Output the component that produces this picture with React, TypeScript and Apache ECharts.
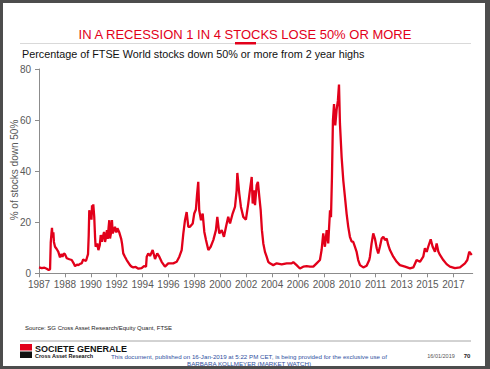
import React, { useEffect, useRef } from "react";
import * as echarts from "echarts";

const tickLabels = ["1987", "1988", "1990", "1992", "1994", "1996", "1998", "2000", "2002", "2004", "2006", "2008", "2010", "2011", "2013", "2015", "2017"];
const yTicks = [0, 20, 40, 60, 80];

const years = [
  1987.00, 1987.20, 1987.40, 1987.56, 1987.70, 1987.80, 1987.85, 1987.90, 1987.94, 1987.98,
  1988.04, 1988.08, 1988.16, 1988.28, 1988.40, 1988.52, 1988.60, 1988.70, 1988.80, 1988.88,
  1989.01, 1989.20, 1989.37, 1989.50, 1989.61, 1989.75, 1989.85, 1990.00, 1990.09, 1990.20,
  1990.26, 1990.40, 1990.55, 1990.60, 1990.64, 1990.70, 1990.74, 1990.80, 1990.84, 1990.90,
  1990.93, 1991.00, 1991.06, 1991.10, 1991.22, 1991.30, 1991.40, 1991.47, 1991.55, 1991.61,
  1991.71, 1991.78, 1991.85, 1991.92, 1991.97, 1992.04, 1992.09, 1992.14, 1992.22, 1992.28,
  1992.34, 1992.43, 1992.50, 1992.60, 1992.68, 1992.80, 1992.95, 1993.01, 1993.10, 1993.22,
  1993.35, 1993.47, 1993.59, 1993.70, 1993.83, 1994.00, 1994.20, 1994.43, 1994.60, 1994.75,
  1994.80, 1994.91, 1995.04, 1995.23, 1995.40, 1995.56, 1995.71, 1995.88, 1996.12, 1996.36,
  1996.72, 1996.97, 1997.16, 1997.33, 1997.45, 1997.57, 1997.69, 1997.81, 1997.93, 1998.13,
  1998.24, 1998.36, 1998.44, 1998.53, 1998.60, 1998.73, 1998.85, 1998.97, 1999.09, 1999.26,
  1999.43, 1999.62, 1999.81, 1999.91, 2000.05, 2000.23, 2000.39, 2000.54, 2000.70, 2000.83,
  2001.02, 2001.19, 2001.31, 2001.36, 2001.50, 2001.62, 2001.79, 2001.98, 2002.15, 2002.27,
  2002.40, 2002.47, 2002.56, 2002.64, 2002.76, 2002.85, 2002.95, 2003.05, 2003.14, 2003.24,
  2003.36, 2003.48, 2003.60, 2003.72, 2003.96, 2004.21, 2004.57, 2004.93, 2005.29, 2005.41,
  2005.65, 2005.89, 2006.13, 2006.38, 2006.62, 2006.86, 2007.10, 2007.34, 2007.46, 2007.58,
  2007.70, 2007.83, 2007.94, 2008.07, 2008.14, 2008.21, 2008.28, 2008.36, 2008.45, 2008.55,
  2008.64, 2008.72, 2008.79, 2008.91, 2009.03, 2009.15, 2009.27, 2009.39, 2009.51, 2009.63,
  2009.75, 2009.87, 2009.99, 2010.11, 2010.24, 2010.48, 2010.72, 2010.91, 2010.96, 2011.08,
  2011.20, 2011.32, 2011.45, 2011.56, 2011.68, 2011.81, 2011.93, 2012.05, 2012.17, 2012.29,
  2012.41, 2012.65, 2012.90, 2013.13, 2013.50, 2013.86, 2014.10, 2014.34, 2014.58, 2014.82,
  2014.94, 2015.07, 2015.18, 2015.36, 2015.50, 2015.67, 2015.79, 2015.91, 2016.03, 2016.27,
  2016.51, 2016.75, 2017.11, 2017.48, 2017.84, 2018.01, 2018.15, 2018.33
];

const pctDown = [
  2.3, 2.0, 2.2, 1.8, 1.3, 1.6, 12.0, 15.5, 17.8, 14.0,
  16.0, 12.3, 10.4, 9.5, 8.4, 6.2, 7.5, 6.5, 7.8, 7.5,
  5.9, 5.5, 5.2, 4.0, 2.8, 3.4, 3.2, 3.8, 3.9, 5.4,
  5.2, 4.8, 7.5, 15.0, 24.7, 22.0, 23.5, 21.0, 26.6, 24.0,
  27.0, 22.0, 14.0, 10.4, 11.7, 9.1, 11.0, 15.0, 12.3, 14.0,
  16.2, 12.3, 14.0, 16.9, 13.5, 18.0, 20.8, 13.6, 16.0, 20.8,
  15.6, 17.0, 18.2, 16.0, 17.6, 16.2, 13.5, 11.7, 7.8, 6.5,
  5.2, 4.2, 3.2, 2.6, 2.3, 2.5, 1.8, 2.0, 2.8, 2.6,
  6.5, 7.8, 6.8, 9.1, 5.6, 7.8, 6.5, 4.5, 2.6, 3.9,
  3.9, 4.5, 6.5, 9.1, 15.6, 20.8, 24.0, 18.2, 18.2, 19.5,
  23.4, 25.0, 30.6, 35.8, 24.7, 20.8, 23.4, 16.2, 13.0, 9.1,
  10.4, 13.0, 16.9, 22.1, 15.6, 16.9, 14.3, 18.2, 22.1, 19.5,
  23.4, 26.0, 32.5, 39.3, 31.2, 26.0, 22.1, 21.0, 27.3, 32.5,
  37.7, 27.3, 32.5, 26.7, 34.5, 35.8, 30.0, 24.7, 16.9, 11.7,
  8.4, 6.5, 4.5, 3.9, 3.2, 3.9, 3.5, 3.9, 3.9, 4.4,
  3.2, 1.9, 2.6, 2.8, 2.6, 2.6, 3.9, 5.2, 9.1, 15.6,
  10.4, 16.9, 11.7, 24.7, 22.0, 37.7, 59.8, 66.3, 57.9, 64.2,
  67.6, 73.9, 58.5, 45.5, 36.4, 29.9, 23.4, 18.2, 14.3, 12.5,
  12.3, 10.4, 8.5, 5.2, 3.2, 2.3, 3.0, 5.2, 6.5, 11.7,
  15.6, 13.6, 9.8, 7.8, 10.4, 13.6, 14.3, 13.0, 13.6, 11.0,
  9.1, 6.5, 4.5, 3.2, 2.6, 1.9, 2.3, 5.2, 4.5, 6.5,
  9.8, 8.4, 10.4, 13.3, 10.4, 8.4, 11.7, 8.5, 7.2, 5.2,
  3.6, 2.6, 2.0, 2.3, 3.9, 5.2, 8.4, 7.2
];

const RED = "#e2001a";
const FONT = "'Liberation Sans', Arial, sans-serif";
const START = 1987;
const STEP = 1.875;
const END = 2018.4;

export default function App() {
  const ref = useRef<HTMLDivElement>(null);
  useEffect(() => {
    if (!ref.current) return;
    const chart = echarts.init(ref.current, null, { renderer: "svg" });
    const tickVals = tickLabels.map((_, i) => START + i * STEP);
    const data = years.map((y, i) => [y, pctDown[i]]);
    chart.setOption({
      animation: false,
      grid: { left: 39, top: 69, width: 433.7, height: 204.3 },
      xAxis: {
        type: "value",
        min: START,
        max: END,
        axisLine: { show: true, lineStyle: { color: "#8c8c8c", width: 1 } },
        axisTick: { show: true, length: 4, customValues: tickVals, lineStyle: { color: "#8c8c8c" } },
        axisLabel: {
          customValues: tickVals,
          formatter: (v: number) => tickLabels[Math.round((v - START) / STEP)] ?? "",
          color: "#595959",
          fontSize: 10,
          fontFamily: FONT,
          margin: 6,
        },
        splitLine: { show: false },
      },
      yAxis: {
        type: "value",
        min: 0,
        max: 80,
        interval: 20,
        axisLine: { show: true, lineStyle: { color: "#8c8c8c", width: 1 } },
        axisTick: { show: true, length: 4, lineStyle: { color: "#8c8c8c" } },
        axisLabel: {
          formatter: (v: number) => (yTicks.includes(v) ? String(v) : ""),
          color: "#595959",
          fontSize: 10,
          fontFamily: FONT,
          margin: 8,
        },
        splitLine: { show: false },
      },
      series: [
        {
          type: "line",
          data,
          showSymbol: false,
          symbol: "none",
          lineStyle: { color: RED, width: 2.3 },
          z: 3,
        },
      ],
      graphic: [
        {
          type: "text", x: 245, y: 34,
          style: { text: "IN A RECESSION 1 IN 4 STOCKS LOSE 50% OR MORE", fill: RED, font: `13px ${FONT}`, textAlign: "center", textVerticalAlign: "middle" },
        },
        { type: "line", shape: { x1: 20, y1: 43.5, x2: 471, y2: 43.5 }, style: { stroke: "#d9d9d9", lineWidth: 1 } },
        { type: "rect", shape: { x: 235, y: 42, width: 21, height: 2.5 }, style: { fill: RED } },
        {
          type: "text", x: 22, y: 54,
          style: { text: "Percentage of FTSE World stocks down 50% or more from 2 year highs", fill: "#111", font: `10.8px ${FONT}`, textAlign: "left", textVerticalAlign: "middle" },
        },
        {
          type: "text", x: 14, y: 170, rotation: Math.PI / 2,
          style: { text: "% of stocks down 50%", fill: "#595959", font: `10px ${FONT}`, textAlign: "center", textVerticalAlign: "middle" },
        },
        {
          type: "text", x: 25, y: 327.5,
          style: { text: "Source: SG Cross Asset Research/Equity Quant, FTSE", fill: "#222", font: `6px ${FONT}`, textAlign: "left", textVerticalAlign: "middle" },
        },
        { type: "line", shape: { x1: 20, y1: 341, x2: 471, y2: 341 }, style: { stroke: "#a6a6a6", lineWidth: 1 } },
        { type: "rect", shape: { x: 20, y: 344, width: 12, height: 6.5 }, style: { fill: RED } },
        { type: "rect", shape: { x: 20, y: 351.5, width: 12, height: 6.5 }, style: { fill: "#111" } },
        {
          type: "text", x: 35, y: 349,
          style: { text: "SOCIETE GENERALE", fill: "#111", font: `bold 9px ${FONT}`, textAlign: "left", textVerticalAlign: "middle" },
        },
        {
          type: "text", x: 35, y: 356,
          style: { text: "Cross Asset Research", fill: "#111", font: `bold 5.5px ${FONT}`, textAlign: "left", textVerticalAlign: "middle" },
        },
        {
          type: "text", x: 249, y: 356.3,
          style: { text: "This document, published on 16-Jan-2019 at 5:22 PM CET, is being provided for the exclusive use of", fill: "#2f4fa0", font: `6.2px ${FONT}`, textAlign: "center", textVerticalAlign: "middle" },
        },
        {
          type: "text", x: 249, y: 363,
          style: { text: "BARBARA KOLLMEYER (MARKET WATCH)", fill: "#2f4fa0", font: `6.2px ${FONT}`, textAlign: "center", textVerticalAlign: "middle" },
        },
        {
          type: "text", x: 441, y: 356.3,
          style: { text: "16/01/2019", fill: "#555", font: `5.5px ${FONT}`, textAlign: "center", textVerticalAlign: "middle" },
        },
        {
          type: "text", x: 467, y: 356.3,
          style: { text: "70", fill: "#222", font: `bold 6px ${FONT}`, textAlign: "center", textVerticalAlign: "middle" },
        },
      ],
    });
    return () => chart.dispose();
  }, []);
  return (
    <div style={{ position: "fixed", left: 0, top: 0, width: 490, height: 369, background: "#4d4d4d" }}>
      <div style={{ position: "absolute", left: 3, top: 3, width: 482, height: 363, background: "#fff" }} />
      <div ref={ref} style={{ position: "absolute", left: 0, top: 0, width: 490, height: 369 }} />
    </div>
  );
}
